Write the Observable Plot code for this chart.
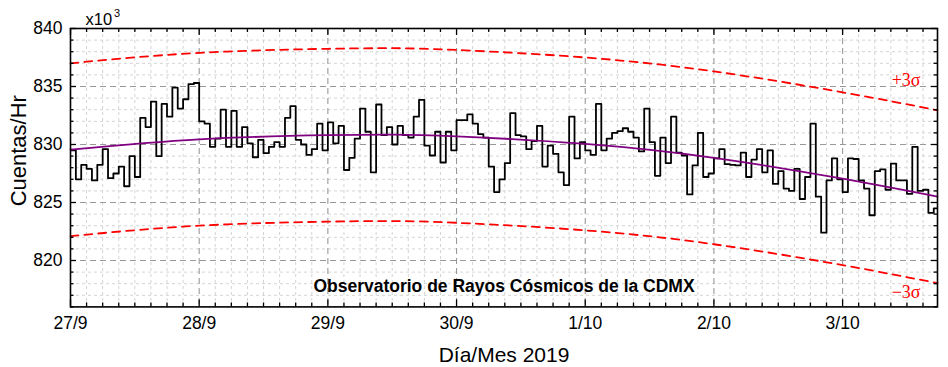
<!DOCTYPE html>
<html><head><meta charset="utf-8">
<script src="https://cdn.jsdelivr.net/npm/d3@7"></script>
<script src="https://cdn.jsdelivr.net/npm/@observablehq/plot@0.6"></script>
<style>body{margin:0;background:#fff}svg{display:block}</style>
</head><body><div id="chart"></div>
<script>
// Hourly counts (x10^3 counts/hr), one array per day starting 27/9 00h
const day27 = [829.5, 827.0, 828.25, 827.9, 826.9, 828.25, 829.6, 827.1, 827.5, 828.1, 826.4, 829.0, 827.2, 832.3, 831.5, 833.7, 829.0, 833.5, 832.4, 834.9, 833.1, 833.9, 835.2, 835.3];
const day28 = [832.0, 831.8, 829.8, 830.5, 833.0, 829.8, 832.9, 829.8, 831.5, 830.1, 828.9, 830.4, 829.25, 829.8, 830.2, 829.8, 832.3, 833.3, 830.4, 830.0, 829.1, 829.6, 831.8, 829.5];
const day29 = [831.9, 830.1, 831.6, 827.8, 828.85, 830.5, 833.1, 831.1, 827.6, 833.45, 830.8, 831.5, 830.0, 831.6, 830.8, 830.6, 832.4, 833.85, 829.9, 829.05, 831.1, 828.45, 831.1, 829.5];
const day30 = [832.1, 832.1, 832.6, 831.8, 830.9, 830.6, 828.1, 825.9, 827.0, 828.4, 832.7, 830.8, 830.7, 829.6, 830.3, 831.6, 828.1, 829.9, 829.2, 827.6, 826.5, 832.4, 828.8, 830.2];
const day01 = [829.5, 829.1, 833.5, 829.5, 830.5, 831.0, 831.15, 831.4, 831.1, 830.6, 829.4, 833.1, 830.2, 827.3, 830.6, 828.4, 832.4, 829.3, 829.05, 825.7, 828.2, 831.0, 827.2, 827.5];
const day02 = [828.8, 829.6, 828.3, 828.25, 828.2, 829.3, 827.2, 828.7, 829.6, 827.6, 829.5, 826.6, 827.7, 826.2, 826.0, 827.9, 825.3, 827.2, 831.8, 825.5, 822.4, 826.9, 828.8, 827.0];
const day03 = [825.9, 828.8, 828.75, 826.9, 826.2, 823.9, 827.7, 827.85, 826.1, 828.35, 826.9, 826.9, 825.75, 829.8, 826.0, 826.1, 824.1, 824.5];

// Fit curve and +/-3 sigma bands, read at these hours
const fitHours   = [0, 24, 48, 60, 72, 96, 120, 144, 161.7];
const fitValues  = [829.55, 830.45, 830.8, 830.85, 830.7, 830.05, 828.85, 827.05, 825.5];
const upperValues = [837.0, 837.9, 838.25, 838.3, 838.15, 837.5, 836.3, 834.5, 832.95];
const lowerValues = [822.1, 823.0, 823.35, 823.4, 823.25, 822.6, 821.4, 819.6, 818.05];

const xTickLabels = ["27/9", "28/9", "29/9", "30/9", "1/10", "2/10", "3/10"];
const yTicks = [820, 825, 830, 835, 840];

const counts = [...day27, ...day28, ...day29, ...day30, ...day01, ...day02, ...day03];
const steps = counts.map((v, i) => ({h: i, v}));
steps.push({h: counts.length, v: counts[counts.length - 1]});
const fit = fitHours.map((h, i) => ({h, v: fitValues[i]}));
const upper = fitHours.map((h, i) => ({h, v: upperValues[i]}));
const lower = fitHours.map((h, i) => ({h, v: lowerValues[i]}));

const mT = 28, mB = 60.6, mL = 70, mR = 11, width = 948, height = 367;
const W = width - mL - mR, H = height - mT - mB;
const majorX = xTickLabels.map((_, i) => i * 24);
const minorX = d3.range(0, 162, 3).filter(h => h % 24 !== 0);
const minorY = d3.range(816, 841).filter(v => v % 5 !== 0);
const gridY = yTicks.filter(v => v < 840);
const gridX = majorX.filter(h => h > 0);
const tk = {stroke: "black", strokeWidth: 1.3};
const serif = "'Liberation Serif', 'Times New Roman', serif";

const chart = Plot.plot({
  width, height, marginTop: mT, marginBottom: mB, marginLeft: mL, marginRight: mR,
  x: {domain: [0, 161.7]},
  y: {domain: [816, 840]},
  style: {fontFamily: "Arial, 'Liberation Sans', sans-serif", background: "white", color: "black"},
  marks: [
    Plot.ruleY(minorY, {stroke: "#d4d4d4", strokeDasharray: "3,3"}),
    Plot.ruleX(minorX, {stroke: "#d4d4d4", strokeDasharray: "3,3"}),
    Plot.ruleY(gridY, {stroke: "#999", strokeDasharray: "6,4", strokeWidth: 1.1}),
    Plot.ruleX(gridX, {stroke: "#999", strokeDasharray: "6,4", strokeWidth: 1.1}),
    Plot.line(upper, {x: "h", y: "v", curve: "natural", stroke: "#ff0000", strokeWidth: 1.8, strokeDasharray: "8,6"}),
    Plot.line(lower, {x: "h", y: "v", curve: "natural", stroke: "#ff0000", strokeWidth: 1.8, strokeDasharray: "8,6"}),
    Plot.line(steps, {x: "h", y: "v", curve: "step-after", stroke: "black", strokeWidth: 1.8, clip: true}),
    Plot.line(fit, {x: "h", y: "v", curve: "natural", stroke: "#800080", strokeWidth: 1.8}),
    // inward ticks on all sides
    Plot.ruleY(yTicks, {...tk, insetRight: W - 6}),
    Plot.ruleY(yTicks, {...tk, insetLeft: W - 6}),
    Plot.ruleY(minorY, {...tk, insetRight: W - 3.5}),
    Plot.ruleY(minorY, {...tk, insetLeft: W - 3.5}),
    Plot.ruleX(majorX, {...tk, insetTop: H - 7}),
    Plot.ruleX(majorX, {...tk, insetBottom: H - 7}),
    Plot.ruleX(minorX, {...tk, insetTop: H - 4}),
    Plot.ruleX(minorX, {...tk, insetBottom: H - 4}),
    Plot.frame({stroke: "black", strokeWidth: 1.6}),
    Plot.axisY(yTicks, {tickSize: 0, tickPadding: 8, fontSize: 17.5, label: null}),
    Plot.axisX(majorX, {tickSize: 0, tickPadding: 10, fontSize: 17.5, label: null,
      tickFormat: d => xTickLabels[Math.round(d / 24)]}),
    Plot.text(["Cuentas/Hr"], {frameAnchor: "left", textAnchor: "middle", lineAnchor: "middle", rotate: -90, dx: -52, dy: -17, fontSize: 22}),
    Plot.text(["Día/Mes 2019"], {frameAnchor: "bottom", textAnchor: "middle", lineAnchor: "middle", dy: 48, fontSize: 21}),
    Plot.text(["x10"], {frameAnchor: "top-left", textAnchor: "start", lineAnchor: "middle", dx: 15, dy: -9, fontSize: 16.5}),
    Plot.text(["3"], {frameAnchor: "top-left", textAnchor: "start", lineAnchor: "middle", dx: 43.5, dy: -15.5, fontSize: 11}),
    Plot.text(["Observatorio de Rayos Cósmicos de la CDMX"], {frameAnchor: "bottom", textAnchor: "middle", lineAnchor: "middle", dy: -21, fontSize: 17.5, fontWeight: "bold"}),
    Plot.text(["+3σ"], {frameAnchor: "top-right", textAnchor: "end", lineAnchor: "middle", dx: -17, dy: 52, fontSize: 18, fill: "#ff0000", fontFamily: serif}),
    Plot.text(["\u22123σ"], {frameAnchor: "bottom-right", textAnchor: "end", lineAnchor: "middle", dx: -17, dy: -15, fontSize: 18, fill: "#ff0000", fontFamily: serif})
  ]
});
document.getElementById("chart").appendChild(chart);
</script>
</body></html>
